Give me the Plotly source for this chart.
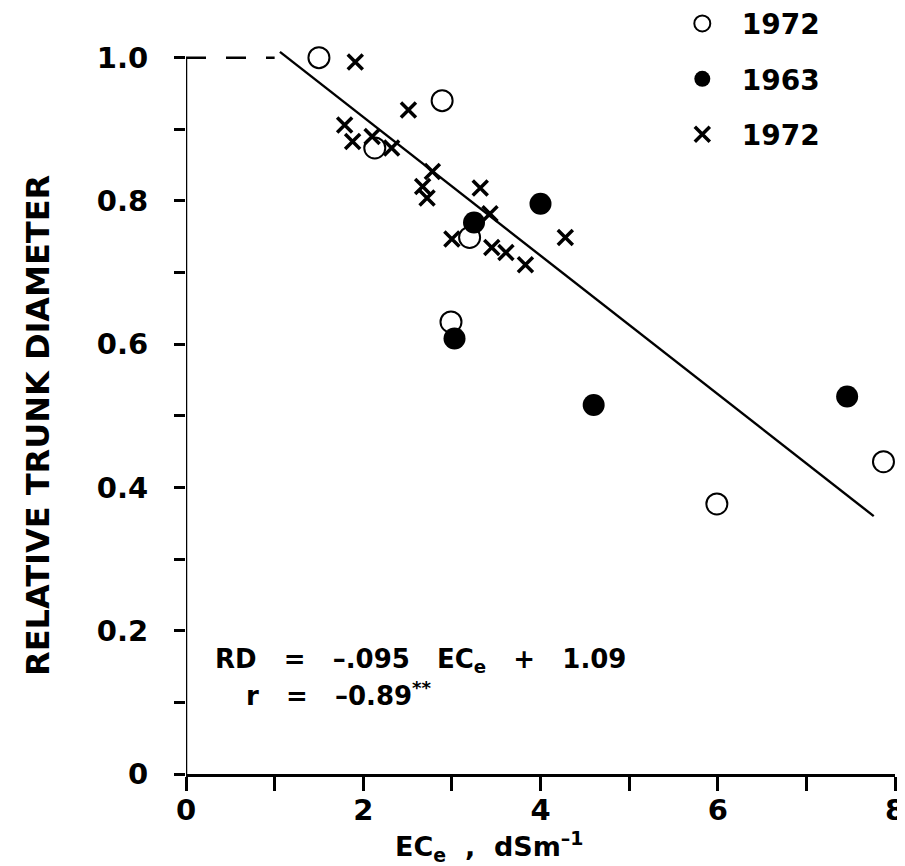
import plotly.graph_objects as go

# ---- data ----
open72_x = [1.50, 2.89, 2.13, 3.20, 2.99, 5.99, 7.87]
open72_y = [1.00, 0.94, 0.874, 0.749, 0.631, 0.377, 0.436]

filled63_x = [3.03, 3.25, 4.00, 4.60, 7.46]
filled63_y = [0.608, 0.770, 0.796, 0.515, 0.527]

cross72_x = [1.91, 2.51, 1.79, 1.88, 2.10, 2.32, 2.78, 2.67, 2.72, 3.32, 3.43, 3.00, 3.45, 3.61, 3.83, 4.28]
cross72_y = [0.994, 0.927, 0.906, 0.883, 0.890, 0.874, 0.841, 0.820, 0.804, 0.818, 0.782, 0.747, 0.735, 0.728, 0.711, 0.749]

fit_x = [1.06, 7.76]
fit_y = [1.008, 0.360]

ref_x = [0.0, 1.0]
ref_y = [1.0, 1.0]

x_tickvals = [0, 2, 4, 6, 8]
x_ticktext = ["0", "2", "4", "6", "8"]
x_minor_vals = [1, 3, 5, 7]
y_tickvals = [0, 0.2, 0.4, 0.6, 0.8, 1.0]
y_ticktext = ["0", "0.2", "0.4", "0.6", "0.8", "1.0"]
y_minor_vals = [0.1, 0.3, 0.5, 0.7, 0.9]

legend_names = ["1972", "1963", "1972"]

FONT = "DejaVu Sans"
NB = "\u00a0"
S2 = NB * 2
S3 = NB * 3

fig = go.Figure()

fig.add_trace(go.Scatter(
    x=ref_x, y=ref_y, mode="lines",
    line=dict(color="black", width=2.5, dash="20px,20px"),
    showlegend=False, hoverinfo="skip"))

fig.add_trace(go.Scatter(
    x=fit_x, y=fit_y, mode="lines",
    line=dict(color="black", width=2.4),
    showlegend=False, hoverinfo="skip"))

fig.add_trace(go.Scatter(
    x=open72_x, y=open72_y, mode="markers", name=S2 + legend_names[0],
    legendgroup="a",
    marker=dict(symbol="circle-open", size=21, color="black", line=dict(width=2)),
    cliponaxis=False))

fig.add_trace(go.Scatter(
    x=filled63_x, y=filled63_y, mode="markers", name=S2 + legend_names[1],
    legendgroup="b",
    marker=dict(symbol="circle", size=22, color="black"),
    cliponaxis=False))

fig.add_trace(go.Scatter(
    x=cross72_x, y=cross72_y, mode="markers", name=S2 + legend_names[2],
    legendgroup="c",
    marker=dict(symbol="x-thin-open", size=15, color="black", line=dict(width=3.5, color="black")),
    cliponaxis=False))

fig.add_shape(type="line", xref="x", yref="y", x0=0, x1=0, y0=0, y1=1.0,
              line=dict(color="black", width=2.5))

fig.add_annotation(
    x=0.31, y=0.159, xref="x", yref="y", xanchor="left", yanchor="middle",
    text="RD" + S3 + "=" + S3 + "\u2013.095" + S3 + "EC<sub>e</sub>" + S3 + "+" + S3 + "1.09",
    showarrow=False, font=dict(family=FONT, size=26, color="black", weight="bold"))

fig.add_annotation(
    x=0.66, y=0.111, xref="x", yref="y", xanchor="left", yanchor="middle",
    text="r" + S3 + "=" + S3 + "\u20130.89<sup>**</sup>",
    showarrow=False, font=dict(family=FONT, size=26, color="black", weight="bold"))

# x-axis title (placed left of centre, as in the reference)
fig.add_annotation(
    x=3.42, y=-0.097, xref="x", yref="paper", xanchor="center", yanchor="middle",
    text="EC<sub>e</sub>" + S2 + "," + S2 + "dSm<sup>\u20131</sup>",
    showarrow=False, font=dict(family=FONT, size=27, color="black", weight="bold"))

# y-axis title (centred a little below the plot centre, as in the reference)
fig.add_annotation(
    x=-0.209, y=0.487, xref="paper", yref="y", xanchor="center", yanchor="middle",
    text="RELATIVE TRUNK DIAMETER", textangle=-90,
    showarrow=False, font=dict(family=FONT, size=32, color="black", weight="bold"))

# the page body adds an 8 px margin, so the figure is sized to fit the window
fig.update_layout(
    width=897, height=858,
    margin=dict(l=178, r=10, t=21, b=92, autoexpand=False),
    paper_bgcolor="white", plot_bgcolor="white",
    font=dict(family=FONT, color="black", weight="bold"),
    showlegend=True,
    legend=dict(
        x=0.70, y=1.0406, xanchor="left", yanchor="top",
        font=dict(family=FONT, size=28, color="black", weight="bold"),
        tracegroupgap=16, bgcolor="rgba(0,0,0,0)"),
    xaxis=dict(
        range=[0, 8], showgrid=False, zeroline=False,
        showline=True, linecolor="black", linewidth=2.5,
        tickmode="array", tickvals=x_tickvals, ticktext=x_ticktext,
        ticks="outside", ticklen=14, tickwidth=2.5, tickcolor="black",
        minor=dict(tickmode="array", tickvals=x_minor_vals, ticks="outside",
                   ticklen=14, tickwidth=2.5, tickcolor="black", showgrid=False),
        ticklabelstandoff=-6, ticklabeloverflow="allow",
        tickfont=dict(family=FONT, size=29, color="black", weight="bold")),
    yaxis=dict(
        range=[0, 1.04], showgrid=False, zeroline=False, showline=False,
        tickmode="array", tickvals=y_tickvals, ticktext=y_ticktext,
        ticks="outside", ticklen=11, tickwidth=2.5, tickcolor="black",
        minor=dict(tickmode="array", tickvals=y_minor_vals, ticks="outside",
                   ticklen=11, tickwidth=2.5, tickcolor="black", showgrid=False),
        ticklabelstandoff=20,
        tickfont=dict(family=FONT, size=29, color="black", weight="bold")),
)

fig.write_html("out.html")
